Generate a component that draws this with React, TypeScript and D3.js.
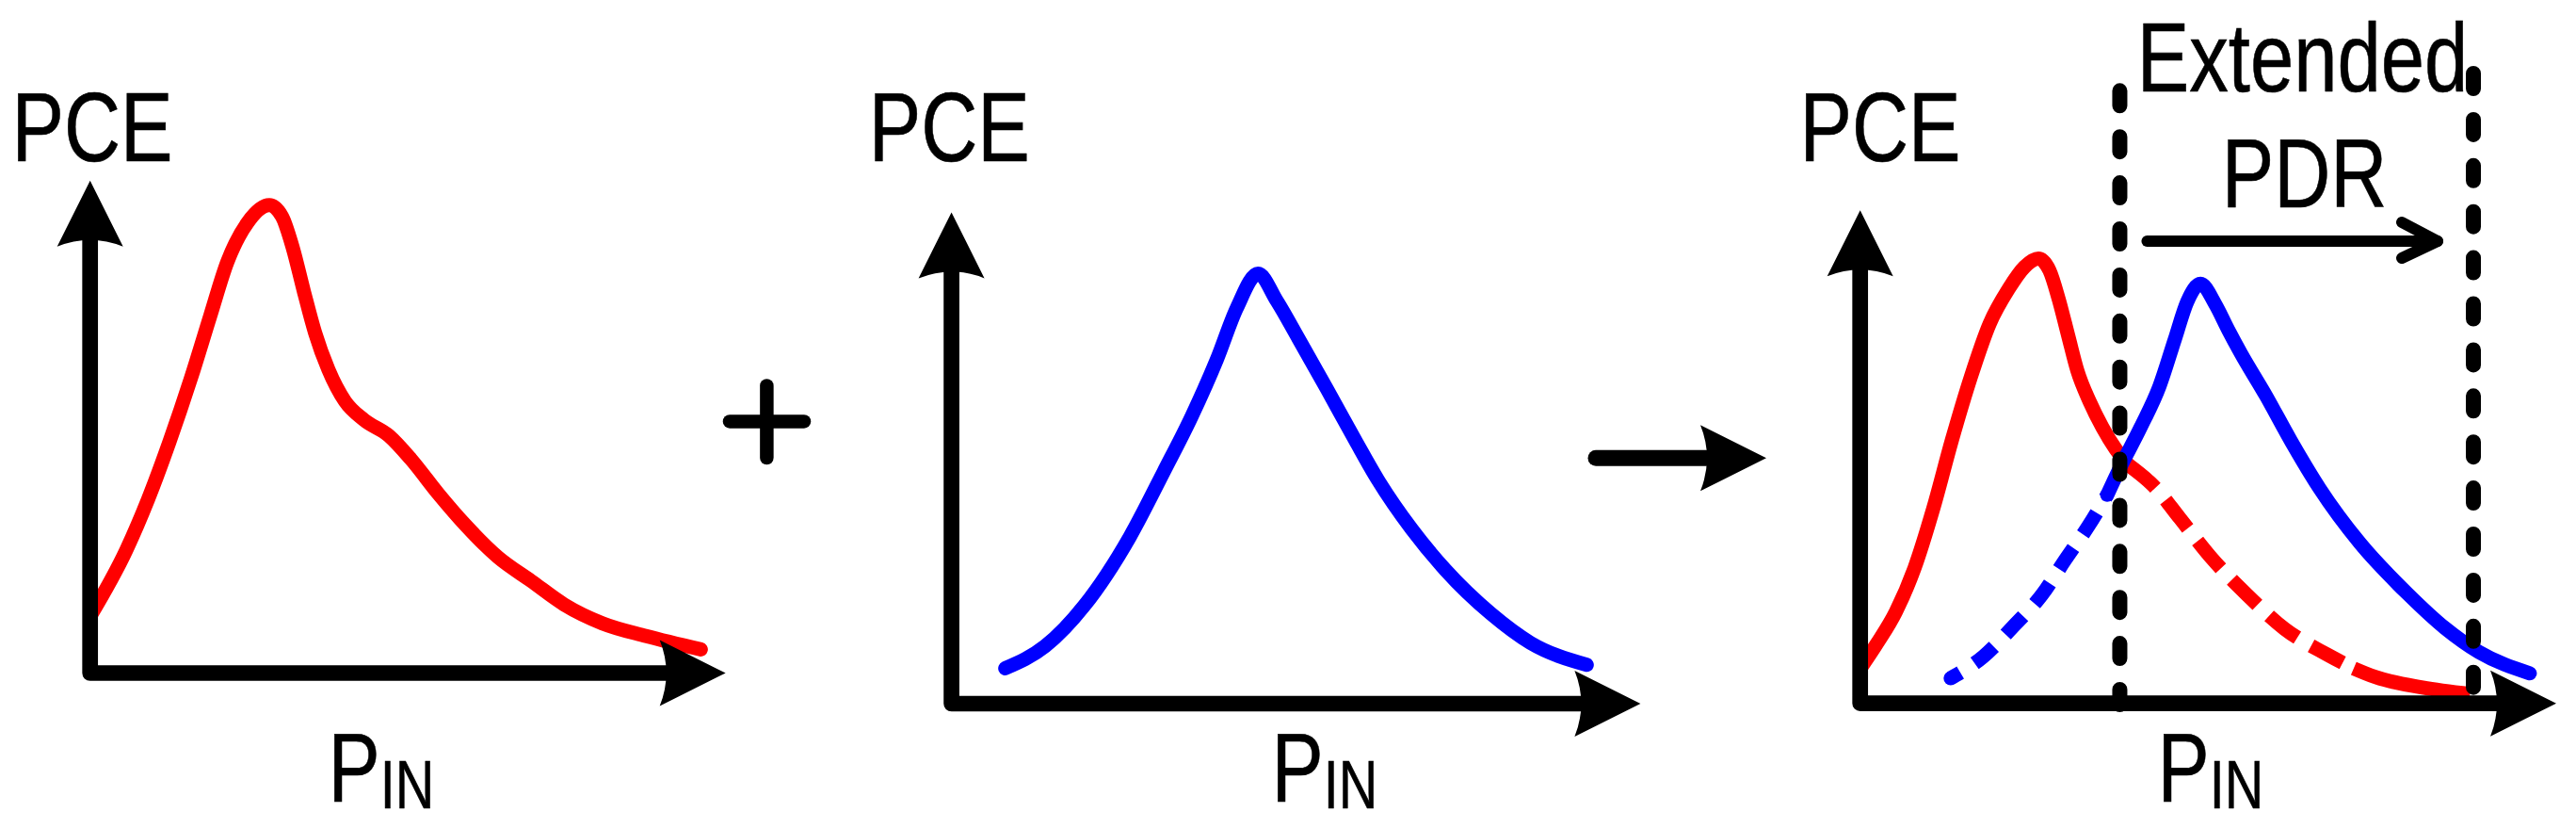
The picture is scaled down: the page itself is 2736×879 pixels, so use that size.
import React from 'react'
import * as d3 from 'd3'

// P_IN in axis units (0..10 along each x axis), PCE in % of the y axis height
const redAlone: [number, number][] = [
  [0, 11.5], [0.57, 25.0], [0.91, 35.2], [1.25, 47.0], [1.59, 60.0], [1.89, 72.5],
  [2.16, 83.5], [2.48, 91.5], [2.82, 95.0], [3.02, 92.7], [3.19, 86.3], [3.36, 77.7],
  [3.54, 69.1], [3.75, 61.6], [4.01, 55.2], [4.31, 51.4], [4.7, 48.2], [5.05, 43.4],
  [5.48, 36.4], [5.91, 30.0], [6.42, 23.5], [6.94, 18.7], [7.46, 13.9], [8.06, 10.1],
  [8.75, 7.5], [9.61, 4.8],
]

const blueAlone: [number, number][] = [
  [0.78, 7.2], [1.36, 11.7], [1.93, 20.0], [2.59, 34.0], [3.08, 47.2], [3.49, 58.6],
  [3.85, 70.0], [4.14, 80.5], [4.45, 87.5], [4.72, 82.0], [5.04, 74.2], [5.45, 64.0],
  [5.86, 53.6], [6.19, 45.5], [6.68, 35.5], [7.17, 27.2], [7.83, 18.3], [8.4, 12.4],
  [9.22, 7.9],
]

// combined panel: each curve is split where its line style changes
const redSolid: [number, number][] = [
  [0, 7.0], [0.24, 12.1], [0.51, 18.5], [0.78, 27.4], [1.05, 39.5], [1.32, 53.5],
  [1.59, 66.2], [1.86, 77.0], [2.13, 84.0], [2.36, 88.5], [2.56, 90.2], [2.72, 87.8],
  [2.85, 82.1], [2.99, 74.5], [3.12, 67.5], [3.3, 61.1], [3.48, 56.0], [3.67, 51.6],
  [3.85, 48.4],
]
const redDashed: [number, number][] = [
  [3.85, 48.4], [4.25, 43.6], [4.59, 37.6], [5.06, 29.3], [5.56, 22.0], [6.1, 15.1],
  [6.71, 9.9], [7.09, 7.1],
]
const redTail: [number, number][] = [[7.09, 7.1], [7.41, 5.3], [8.08, 3.2], [8.76, 1.9]]

const blueDashed: [number, number][] = [
  [1.3, 5.1], [1.77, 9.5], [2.22, 15.9], [2.61, 22.0], [2.94, 29.0], [3.28, 36.0],
  [3.55, 42.3],
]
const blueSolid: [number, number][] = [
  [3.55, 42.3], [3.73, 47.7], [4.03, 56.0], [4.3, 64.3], [4.52, 73.8], [4.7, 81.5],
  [4.89, 85.1], [5.1, 81.0], [5.29, 75.7], [5.47, 71.0], [5.83, 62.4], [6.19, 53.2],
  [6.6, 43.6], [7.18, 32.5], [7.86, 22.3], [8.4, 15.3], [8.89, 10.4], [9.62, 6.1],
]

// extended power dynamic range edges (P_IN units)
const pdrEdges = [3.73, 8.81]
const pdrLabel = ['Extended', 'PDR']

const RED = '#ff0000'
const BLUE = '#0000ff'
const W = 2736
const H = 879

const panels = [
  { x0: 95.7, x1: 770.7, y0: 714.5, y1: 191.7, pce: 98, pin: 348.5 },
  { x0: 1010.6, x1: 1742.4, y0: 747, y1: 225.4, pce: 1008.3, pin: 1350.5 },
  { x0: 1975.7, x1: 2715, y0: 746.7, y1: 223.3, pce: 1997, pin: 2291.5 },
]

const scalesFor = (p) => ({
  x: d3.scaleLinear().domain([0, 10]).range([p.x0, p.x1]),
  y: d3.scaleLinear().domain([0, 100]).range([p.y0, p.y1]),
})

const lineFor = (x, y) =>
  d3
    .line<[number, number]>()
    .x(d => x(d[0]))
    .y(d => y(d[1]))
    .curve(d3.curveMonotoneX)

const FONT = 'Liberation Sans, Arial, Helvetica, sans-serif'

function Label({ x, y, size, anchor = 'middle', children }) {
  return (
    <text
      transform={`translate(${x},${y}) scale(0.8,1)`}
      fontFamily={FONT}
      fontSize={size}
      textAnchor={anchor}
      fill="#000"
      stroke="#000"
      strokeWidth={0.6}
    >
      {children}
    </text>
  )
}

// arrow head with a slightly concave back, pointing along +x or -y
function headRight(tx, ty) {
  return `M${tx},${ty} L${tx - 70},${ty - 35} Q${tx - 56},${ty} ${tx - 70},${ty + 35} Z`
}
function headUp(tx, ty) {
  return `M${tx},${ty} L${tx - 35},${ty + 70} Q${tx},${ty + 56} ${tx + 35},${ty + 70} Z`
}

function Axes({ x, y }) {
  const [ox, tx] = x.range()
  const [oy, ty] = y.range()
  return (
    <g>
      <path
        d={`M${ox},${ty + 60} L${ox},${oy} L${tx - 60},${oy}`}
        fill="none"
        stroke="#000"
        strokeWidth={16.7}
        strokeLinejoin="round"
      />
      <path d={headUp(ox, ty)} fill="#000" />
      <path d={headRight(tx, oy)} fill="#000" />
    </g>
  )
}

function Panel({ p, children }) {
  return (
    <g>
      {children}
      <Label x={p.pce} y={171} size={104}>PCE</Label>
      <Label x={p.pin} y={850.7} size={103.4} anchor="start">
        P<tspan fontSize={72} dy={7}>IN</tspan>
      </Label>
    </g>
  )
}

export default function App() {
  const s1 = scalesFor(panels[0])
  const s2 = scalesFor(panels[1])
  const s3 = scalesFor(panels[2])
  const l1 = lineFor(s1.x, s1.y)
  const l2 = lineFor(s2.x, s2.y)
  const l3 = lineFor(s3.x, s3.y)

  const curve = { fill: 'none', strokeWidth: 15 }
  const pdrL = s3.x(pdrEdges[0])
  const pdrR = s3.x(pdrEdges[1])
  const arrowY = 256

  return (
    <svg
      width={W}
      height={H}
      viewBox={`0 0 ${W} ${H}`}
      style={{ position: 'absolute', left: 0, top: 0, display: 'block', background: '#fff' }}
    >
      <rect width={W} height={H} fill="#fff" />

      {/* first rectifier alone */}
      <Panel p={panels[0]}>
        <path d={l1(redAlone)} {...curve} stroke={RED} strokeLinecap="round" strokeLinejoin="round" />
        <Axes x={s1.x} y={s1.y} />
      </Panel>

      {/* plus sign */}
      <g stroke="#000" strokeWidth={14.5} strokeLinecap="round">
        <line x1={775} y1={447.4} x2={854} y2={447.4} />
        <line x1={814.4} y1={409.5} x2={814.4} y2={486} />
      </g>

      {/* second rectifier alone */}
      <Panel p={panels[1]}>
        <path d={l2(blueAlone)} {...curve} stroke={BLUE} strokeLinecap="round" strokeLinejoin="round" />
        <Axes x={s2.x} y={s2.y} />
      </Panel>

      {/* result arrow */}
      <line x1={1695} y1={486.3} x2={1812} y2={486.3} stroke="#000" strokeWidth={17} strokeLinecap="round" />
      <path d={headRight(1876, 486.3)} fill="#000" />

      {/* combined */}
      <Panel p={panels[2]}>
        <path d={l3(redSolid)} {...curve} stroke={RED} strokeLinecap="round" strokeLinejoin="round" />
        <path d={l3(redDashed)} {...curve} stroke={RED} strokeDasharray="38 17" />
        <path d={l3(redTail)} {...curve} stroke={RED} strokeLinejoin="round" />
        <path d={l3(blueDashed)} {...curve} stroke={BLUE} strokeDasharray="27 18" strokeDashoffset={15} />
        <circle cx={s3.x(blueDashed[0][0])} cy={s3.y(blueDashed[0][1])} r={7.5} fill={BLUE} />
        <path d={l3(blueSolid)} {...curve} stroke={BLUE} strokeLinecap="round" strokeLinejoin="round" />
        <Axes x={s3.x} y={s3.y} />
        <g stroke="#000" strokeWidth={16} strokeLinecap="round" strokeDasharray="16 32.9">
          <line x1={pdrL} y1={96.3} x2={pdrL} y2={748} />
          <line x1={pdrR} y1={78} x2={pdrR} y2={740} />
        </g>
        <g stroke="#000" strokeWidth={12} strokeLinecap="round" strokeLinejoin="round" fill="none">
          <line x1={pdrL + 29} y1={arrowY} x2={pdrR - 38} y2={arrowY} />
          <path d={`M${pdrR - 76},${arrowY - 20} L${pdrR - 38},${arrowY} L${pdrR - 76},${arrowY + 18}`} />
        </g>
        <Label x={2445.5} y={97.3} size={104}>{pdrLabel[0]}</Label>
        <Label x={2447.5} y={220} size={104}>{pdrLabel[1]}</Label>
      </Panel>
    </svg>
  )
}
